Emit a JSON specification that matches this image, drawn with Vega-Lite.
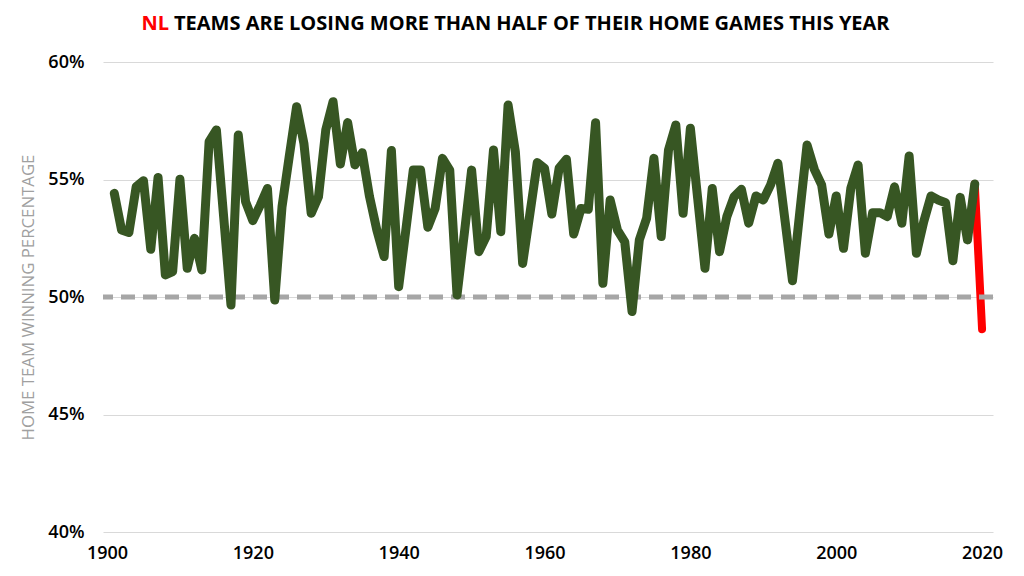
{
  "$schema": "https://vega.github.io/schema/vega-lite/v6.json",
  "autosize": "none",
  "padding": {"left": 103, "top": 62, "right": 31, "bottom": 44},
  "width": 890,
  "height": 470,
  "background": "white",
  "config": {
    "view": {"stroke": null},
    "axis": {"labelFont": "Open Sans", "labelFontWeight": 600, "labelFontSize": 18, "labelColor": "#000000", "domain": false, "ticks": false}
  },
  "datasets": {
    "series": [
      {"year": 1901, "pct": 54.41, "s": "main"}, {"year": 1902, "pct": 52.85, "s": "main"}, {"year": 1903, "pct": 52.74, "s": "main"},
      {"year": 1904, "pct": 54.69, "s": "main"}, {"year": 1905, "pct": 54.95, "s": "main"}, {"year": 1906, "pct": 52.03, "s": "main"},
      {"year": 1907, "pct": 55.09, "s": "main"}, {"year": 1908, "pct": 50.94, "s": "main"}, {"year": 1909, "pct": 51.08, "s": "main"},
      {"year": 1910, "pct": 55.01, "s": "main"}, {"year": 1911, "pct": 51.22, "s": "main"}, {"year": 1912, "pct": 52.50, "s": "main"},
      {"year": 1913, "pct": 51.15, "s": "main"}, {"year": 1914, "pct": 56.61, "s": "main"}, {"year": 1915, "pct": 57.11, "s": "main"},
      {"year": 1916, "pct": 53.40, "s": "main"}, {"year": 1917, "pct": 49.66, "s": "main"}, {"year": 1918, "pct": 56.89, "s": "main"},
      {"year": 1919, "pct": 54.06, "s": "main"}, {"year": 1920, "pct": 53.25, "s": "main"}, {"year": 1921, "pct": 53.90, "s": "main"},
      {"year": 1922, "pct": 54.62, "s": "main"}, {"year": 1923, "pct": 49.87, "s": "main"}, {"year": 1924, "pct": 53.84, "s": "main"},
      {"year": 1925, "pct": 56.00, "s": "main"}, {"year": 1926, "pct": 58.10, "s": "main"}, {"year": 1927, "pct": 56.54, "s": "main"},
      {"year": 1928, "pct": 53.56, "s": "main"}, {"year": 1929, "pct": 54.27, "s": "main"}, {"year": 1930, "pct": 57.11, "s": "main"},
      {"year": 1931, "pct": 58.31, "s": "main"}, {"year": 1932, "pct": 55.66, "s": "main"}, {"year": 1933, "pct": 57.42, "s": "main"},
      {"year": 1934, "pct": 55.62, "s": "main"}, {"year": 1935, "pct": 56.14, "s": "main"}, {"year": 1936, "pct": 54.27, "s": "main"},
      {"year": 1937, "pct": 52.85, "s": "main"}, {"year": 1938, "pct": 51.72, "s": "main"}, {"year": 1939, "pct": 56.23, "s": "main"},
      {"year": 1940, "pct": 50.44, "s": "main"}, {"year": 1941, "pct": 52.90, "s": "main"}, {"year": 1942, "pct": 55.40, "s": "main"},
      {"year": 1943, "pct": 55.40, "s": "main"}, {"year": 1944, "pct": 52.97, "s": "main"}, {"year": 1945, "pct": 53.77, "s": "main"},
      {"year": 1946, "pct": 55.90, "s": "main"}, {"year": 1947, "pct": 55.40, "s": "main"}, {"year": 1948, "pct": 50.09, "s": "main"},
      {"year": 1949, "pct": 52.70, "s": "main"}, {"year": 1950, "pct": 55.40, "s": "main"}, {"year": 1951, "pct": 51.93, "s": "main"},
      {"year": 1952, "pct": 52.57, "s": "main"}, {"year": 1953, "pct": 56.26, "s": "main"}, {"year": 1954, "pct": 52.78, "s": "main"},
      {"year": 1955, "pct": 58.17, "s": "main"}, {"year": 1956, "pct": 56.18, "s": "main"}, {"year": 1957, "pct": 51.43, "s": "main"},
      {"year": 1958, "pct": 53.56, "s": "main"}, {"year": 1959, "pct": 55.72, "s": "main"}, {"year": 1960, "pct": 55.48, "s": "main"},
      {"year": 1961, "pct": 53.53, "s": "main"}, {"year": 1962, "pct": 55.48, "s": "main"}, {"year": 1963, "pct": 55.86, "s": "main"},
      {"year": 1964, "pct": 52.68, "s": "main"}, {"year": 1965, "pct": 53.77, "s": "main"}, {"year": 1966, "pct": 53.73, "s": "main"},
      {"year": 1967, "pct": 57.42, "s": "main"}, {"year": 1968, "pct": 50.58, "s": "main"}, {"year": 1969, "pct": 54.13, "s": "main"},
      {"year": 1970, "pct": 52.85, "s": "main"}, {"year": 1971, "pct": 52.35, "s": "main"}, {"year": 1972, "pct": 49.38, "s": "main"},
      {"year": 1973, "pct": 52.43, "s": "main"}, {"year": 1974, "pct": 53.35, "s": "main"}, {"year": 1975, "pct": 55.90, "s": "main"},
      {"year": 1976, "pct": 52.57, "s": "main"}, {"year": 1977, "pct": 56.26, "s": "main"}, {"year": 1978, "pct": 57.32, "s": "main"},
      {"year": 1979, "pct": 53.56, "s": "main"}, {"year": 1980, "pct": 57.18, "s": "main"}, {"year": 1981, "pct": 54.20, "s": "main"},
      {"year": 1982, "pct": 51.22, "s": "main"}, {"year": 1983, "pct": 54.62, "s": "main"}, {"year": 1984, "pct": 51.93, "s": "main"},
      {"year": 1985, "pct": 53.42, "s": "main"}, {"year": 1986, "pct": 54.27, "s": "main"}, {"year": 1987, "pct": 54.58, "s": "main"},
      {"year": 1988, "pct": 53.14, "s": "main"}, {"year": 1989, "pct": 54.30, "s": "main"}, {"year": 1990, "pct": 54.13, "s": "main"},
      {"year": 1991, "pct": 54.77, "s": "main"}, {"year": 1992, "pct": 55.69, "s": "main"}, {"year": 1993, "pct": 53.20, "s": "main"},
      {"year": 1994, "pct": 50.69, "s": "main"}, {"year": 1995, "pct": 53.60, "s": "main"}, {"year": 1996, "pct": 56.47, "s": "main"},
      {"year": 1997, "pct": 55.43, "s": "main"}, {"year": 1998, "pct": 54.77, "s": "main"}, {"year": 1999, "pct": 52.68, "s": "main"},
      {"year": 2000, "pct": 54.30, "s": "main"}, {"year": 2001, "pct": 52.07, "s": "main"}, {"year": 2002, "pct": 54.62, "s": "main"},
      {"year": 2003, "pct": 55.62, "s": "main"}, {"year": 2004, "pct": 51.86, "s": "main"}, {"year": 2005, "pct": 53.59, "s": "main"},
      {"year": 2006, "pct": 53.59, "s": "main"}, {"year": 2007, "pct": 53.42, "s": "main"}, {"year": 2008, "pct": 54.69, "s": "main"},
      {"year": 2009, "pct": 53.14, "s": "main"}, {"year": 2010, "pct": 56.00, "s": "main"}, {"year": 2011, "pct": 51.86, "s": "main"},
      {"year": 2012, "pct": 53.20, "s": "main"}, {"year": 2013, "pct": 54.30, "s": "main"}, {"year": 2014, "pct": 54.13, "s": "main"},
      {"year": 2015, "pct": 54.01, "s": "main"}, {"year": 2016, "pct": 51.54, "s": "main"}, {"year": 2017, "pct": 54.24, "s": "main"},
      {"year": 2018, "pct": 52.43, "s": "main"}, {"year": 2019, "pct": 54.81, "s": "main"},
      {"year": 2019, "pct": 54.81, "s": "latest"}, {"year": 2020, "pct": 48.63, "s": "latest"}
    ]
  },
  "layer": [
    {
      "data": {"name": "series"},
      "transform": [{"filter": "datum.s === 'latest'"}],
      "mark": {"type": "line", "color": "#FF0000", "strokeWidth": 8, "strokeCap": "round", "strokeJoin": "round"},
      "encoding": {
        "x": {"field": "year", "type": "quantitative", "scale": {"domain": [1899.45, 2021.5], "nice": false, "zero": false},
              "axis": {"values": [1900, 1920, 1940, 1960, 1980, 2000, 2020], "format": "d", "grid": false, "labelPadding": 12, "title": null, "labelFlush": false}},
        "y": {"field": "pct", "type": "quantitative", "scale": {"domain": [40, 60], "nice": false, "zero": false},
              "axis": {"values": [40, 45, 50, 55, 60], "labelExpr": "datum.value + '%'", "grid": true, "gridColor": "#D9D9D9", "gridWidth": 1,
                       "labelPadding": 19, "title": "HOME TEAM WINNING PERCENTAGE", "titleFont": "Open Sans", "titleFontWeight": "normal",
                       "titleFontSize": 16.8, "titleColor": "#A0A0A0", "titlePadding": 10}}
      }
    },
    {
      "data": {"values": [{"level": 50}]},
      "mark": {"type": "rule", "color": "#A6A6A6", "strokeWidth": 5, "strokeDash": [14, 8]},
      "encoding": {"y": {"field": "level", "type": "quantitative"}}
    },
    {
      "data": {"name": "series"},
      "transform": [{"filter": "datum.s === 'main'"}],
      "mark": {"type": "line", "color": "#375623", "strokeWidth": 9, "strokeCap": "round", "strokeJoin": "round"},
      "encoding": {
        "x": {"field": "year", "type": "quantitative"},
        "y": {"field": "pct", "type": "quantitative"}
      }
    },
    {
      "data": {"values": [{"t": "NL"}]},
      "mark": {"type": "text", "align": "right", "baseline": "middle", "font": "Open Sans", "fontWeight": "bold", "fontSize": 20, "color": "#FF0000", "dx": -1},
      "encoding": {
        "x": {"datum": 1908.64, "type": "quantitative"},
        "y": {"datum": 61.62, "type": "quantitative"},
        "text": {"field": "t"}
      }
    },
    {
      "data": {"values": [{"t": "TEAMS ARE LOSING MORE THAN HALF OF THEIR HOME GAMES THIS YEAR"}]},
      "mark": {"type": "text", "align": "left", "baseline": "middle", "font": "Open Sans", "fontWeight": "bold", "fontSize": 20, "color": "#000000", "dx": 4},
      "encoding": {
        "x": {"datum": 1908.64, "type": "quantitative"},
        "y": {"datum": 61.62, "type": "quantitative"},
        "text": {"field": "t"}
      }
    }
  ]
}
